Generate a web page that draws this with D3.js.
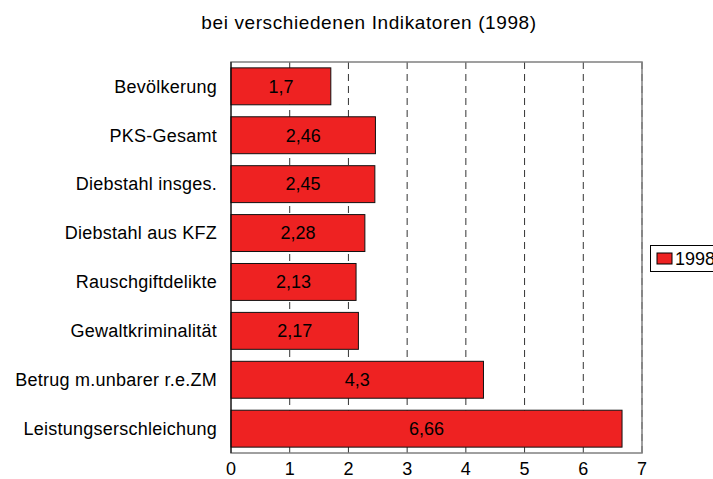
<!DOCTYPE html>
<html>
<head>
<meta charset="utf-8">
<script src="https://cdn.jsdelivr.net/npm/d3@7.9.0/dist/d3.min.js"></script>
<style>
  body { margin: 0; background: #fff; }
  svg { display: block; font-family: "Liberation Sans", Arial, sans-serif; }
</style>
</head>
<body>
<svg id="chart" width="713" height="479"></svg>
<script>
// data
const title = "bei verschiedenen Indikatoren (1998)";
const categories = ["Bevölkerung", "PKS-Gesamt", "Diebstahl insges.", "Diebstahl aus KFZ",
  "Rauschgiftdelikte", "Gewaltkriminalität", "Betrug m.unbarer r.e.ZM", "Leistungserschleichung"];
const values = [1.7, 2.46, 2.45, 2.28, 2.13, 2.17, 4.3, 6.66];
const valueLabels = ["1,7", "2,46", "2,45", "2,28", "2,13", "2,17", "4,3", "6,66"];
const xTicks = [0, 1, 2, 3, 4, 5, 6, 7];
const seriesName = "1998";

const svg = d3.select("#chart");
const plotL = 231, plotR = 642, plotT = 62, plotB = 453;

const x = d3.scaleLinear().domain([0, 7]).range([plotL, plotR]);
const y = d3.scaleBand().domain(categories).range([plotT, plotB]).paddingInner(0.245).paddingOuter(0.12);

// title
svg.append("text")
  .attr("x", 369).attr("y", 29)
  .attr("text-anchor", "middle")
  .style("font-size", "19px")
  .style("letter-spacing", "0.6px")
  .text(title);

// dashed grid
svg.append("g").selectAll("line")
  .data(xTicks.slice(1))
  .join("line")
  .attr("x1", d => x(d)).attr("x2", d => x(d))
  .attr("y1", plotT).attr("y2", plotB)
  .attr("stroke", "#333")
  .attr("stroke-dasharray", "7,5");

// frame
svg.append("rect")
  .attr("x", plotL).attr("y", plotT)
  .attr("width", plotR - plotL).attr("height", plotB - plotT)
  .attr("fill", "none")
  .attr("stroke", "#808080")
  .attr("stroke-width", 1.5);

// bars
const bars = svg.append("g").selectAll("g")
  .data(categories)
  .join("g");

bars.append("rect")
  .attr("x", x(0))
  .attr("y", d => y(d))
  .attr("width", (d, i) => x(values[i]) - x(0))
  .attr("height", y.bandwidth())
  .attr("fill", "#ee2222")
  .attr("stroke", "#111")
  .attr("stroke-width", 1);

bars.append("text")
  .attr("x", (d, i) => (x(0) + x(values[i])) / 2)
  .attr("y", d => y(d) + y.bandwidth() / 2)
  .attr("dy", "0.35em")
  .attr("text-anchor", "middle")
  .style("font-size", "18px")
  .text((d, i) => valueLabels[i]);

// left axis line
svg.append("line")
  .attr("x1", plotL).attr("x2", plotL)
  .attr("y1", plotT).attr("y2", plotB)
  .attr("stroke", "#000");

// category labels
svg.append("g").selectAll("text")
  .data(categories)
  .join("text")
  .attr("x", 217)
  .attr("y", d => y(d) + y.bandwidth() / 2)
  .attr("dy", "0.35em")
  .attr("text-anchor", "end")
  .style("font-size", "18px")
  .style("letter-spacing", "0.25px")
  .text(d => d);

// x tick labels
svg.append("g").selectAll("text")
  .data(xTicks)
  .join("text")
  .attr("x", d => x(d))
  .attr("y", 475)
  .attr("text-anchor", "middle")
  .style("font-size", "18px")
  .text(d => d);

// legend
const lg = svg.append("g");
lg.append("rect")
  .attr("x", 650.5).attr("y", 245.5)
  .attr("width", 80).attr("height", 26)
  .attr("fill", "#fff").attr("stroke", "#000");
lg.append("rect")
  .attr("x", 657).attr("y", 253)
  .attr("width", 15).attr("height", 11)
  .attr("fill", "#ee2222").attr("stroke", "#000");
lg.append("text")
  .attr("x", 675).attr("y", 265)
  .style("font-size", "18px")
  .text(seriesName);
</script>
</body>
</html>
